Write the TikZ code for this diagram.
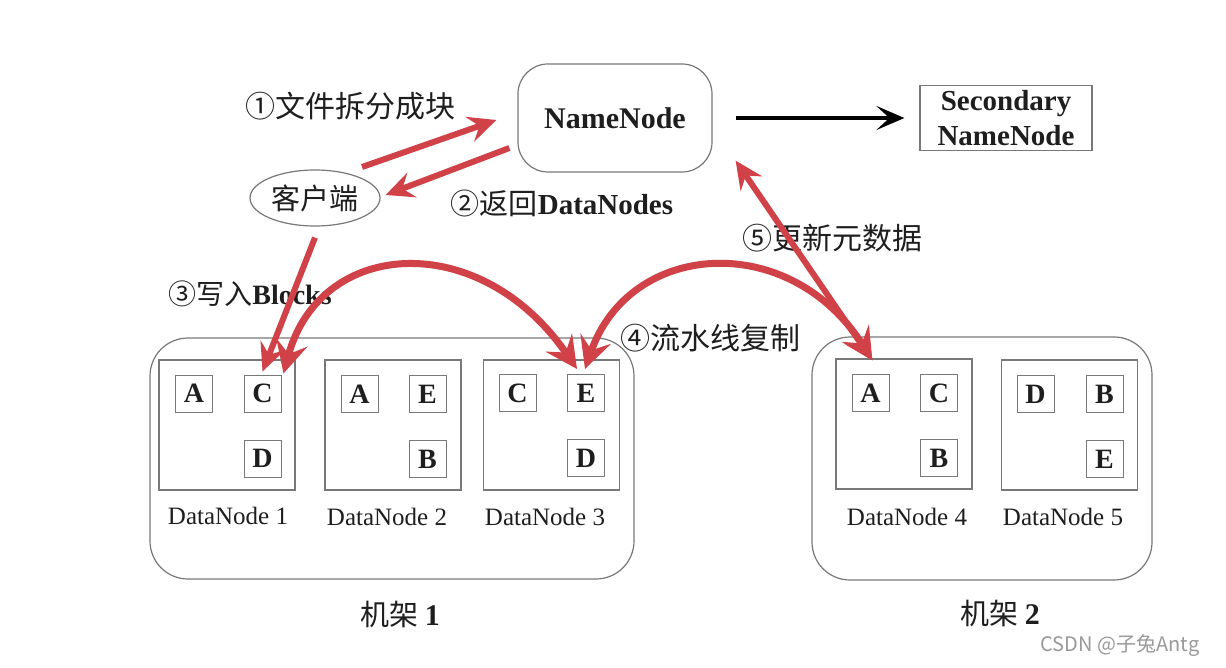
\documentclass[tikz,border=0pt]{standalone}
\usepackage{fontspec}
\setmainfont{Liberation Serif}
\newfontfamily\cjk{Noto Sans CJK SC}
\usetikzlibrary{arrows.meta,calc,shapes.geometric}
\definecolor{redarr}{RGB}{208,66,72}
\definecolor{linegray}{RGB}{120,120,120}
\definecolor{txt}{RGB}{30,30,30}
\tikzset{
  fs/.style={font=\fontsize{#1}{#1}\selectfont},
  blk/.style={draw=linegray, line width=1pt, minimum size=37pt, inner sep=0pt,
    font=\fontsize{28}{28}\selectfont\bfseries, text=txt},
  dnbox/.style={draw=linegray, line width=1.2pt, minimum width=136pt, minimum height=130pt, inner sep=0pt},
  rack/.style={draw=linegray, line width=1.2pt, rounded corners=38pt},
  dnlabel/.style={font=\fontsize{25}{25}\selectfont, text=txt},
  cnlabel/.style={font=\fontsize{30}{30}\selectfont\cjk, text=txt, inner sep=0pt},
  redline/.style={draw=redarr, line width=6pt, -{Stealth[length=28pt,width=26pt,inset=10pt]}},
  redboth/.style={draw=redarr, line width=6pt, {Stealth[length=28pt,width=26pt,inset=10pt]}-{Stealth[length=28pt,width=26pt,inset=10pt]}},
  redcurve/.style={draw=redarr, line width=7pt, {Stealth[length=32pt,width=32pt,inset=12pt]}-{Stealth[length=32pt,width=32pt,inset=12pt]}},
}
\begin{document}
\begin{tikzpicture}[x=1pt,y=-1pt]
\useasboundingbox[fill=white] (0,0) rectangle (1226,668);

% NameNode and Secondary
\node[draw=linegray, line width=1.2pt, rounded corners=30pt, minimum width=194pt, minimum height=108pt,
      font=\fontsize{30}{30}\selectfont\bfseries, text=txt] (nn) at (615,118) {NameNode};
\node[draw=linegray, line width=1.2pt, minimum width=172pt, minimum height=65pt, inner sep=0pt,
      font=\fontsize{29}{35}\selectfont\bfseries, text=txt, align=center] (snn) at (1006,118) {Secondary\\NameNode};
\draw[line width=4.5pt, -{Stealth[length=28pt,width=24pt,inset=13pt]}]
  ([shift={(23,0)}]nn.east) -- ([shift={(-15,0)}]snn.west);

% client
\node[draw=linegray, line width=1.2pt, ellipse, minimum width=130pt, minimum height=56pt, inner sep=0pt,
      font=\fontsize{29}{29}\selectfont\cjk, text=txt] (cl) at (315,198) {客户端};

% racks
\draw[rack] (150,338) rectangle (634,579);
\draw[rack] (812,337) rectangle (1152,580);

% DataNodes
\node[dnbox] (dn1) at (227,425) {};
\node[dnbox] (dn2) at (393,425) {};
\node[dnbox] (dn3) at (551.5,425) {};
\node[dnbox] (dn4) at (904,424) {};
\node[dnbox] (dn5) at (1069.5,425) {};

% blocks
\node[blk] (a1) at (194,393.5) {A};
\node[blk] (c1) at (262.5,393.5) {C};
\node[blk] (d1) at (262.5,458.5) {D};
\node[blk] (a2) at (359.5,394) {A};
\node[blk] (e2) at (427.5,394) {E};
\node[blk] (b2) at (427.5,459) {B};
\node[blk] (c3) at (517.5,393) {C};
\node[blk] (e3) at (586,393) {E};
\node[blk] (d3) at (586,458) {D};
\node[blk] (a4) at (870.5,393) {A};
\node[blk] (c4) at (939,393) {C};
\node[blk] (b4) at (939,458) {B};
\node[blk] (d5) at (1035.5,394) {D};
\node[blk] (b5) at (1104.5,394) {B};
\node[blk] (e5) at (1104.5,459) {E};

% DataNode labels
\node[dnlabel] (l1) at (228,516) {DataNode 1};
\node[dnlabel] (l2) at (387,517) {DataNode 2};
\node[dnlabel] (l3) at (545,517) {DataNode 3};
\node[dnlabel] (l4) at (907,517) {DataNode 4};
\node[dnlabel] (l5) at (1063,517) {DataNode 5};

% rack labels
\node[text=txt, inner sep=0pt] (r1) at (400,614) {{\fontsize{29}{29}\selectfont\cjk 机架 }{\fontsize{30}{30}\selectfont\bfseries 1}};
\node[text=txt, inner sep=0pt] (r2) at (1000,613) {{\fontsize{29}{29}\selectfont\cjk 机架 }{\fontsize{30}{30}\selectfont\bfseries 2}};

% step labels
\node[cnlabel] (s1) at (350,106) {①文件拆分成块};
\node[text=txt, inner sep=0pt] (s2) at (562,203) {{\fontsize{29}{29}\selectfont\cjk ②返回}{\fontsize{29}{29}\selectfont\bfseries DataNodes}};
\node[text=txt, inner sep=0pt] (s3) at (250,294) {{\fontsize{28}{28}\selectfont\cjk ③写入}{\fontsize{28}{28}\selectfont\bfseries Blocks}};
\node[cnlabel] (s4) at (710,338) {④流水线复制};
\node[cnlabel] (s5) at (832,238) {⑤更新元数据};

% red arrows
\draw[redline] ([shift={(47,-31)}]cl.center) -- ([shift={(-21,2)}]nn.west);
\draw[redline] ([shift={(-8,30)}]nn.west) -- ([shift={(5,-3)}]cl.east);
\draw[redline] ([shift={(0,11)}]cl.south) -- ([shift={(0,-3)}]c1.north);
\draw[redcurve] ([shift={(2,-1)}]c1.north east) .. controls (320,238) and (480,228) .. ([shift={(-9,-5)}]e3.north);
\draw[redcurve] ([shift={(-1,-5)}]e3.north) .. controls (630,240) and (790,230) .. ([shift={(37,2)}]dn4.north west);
\draw[redboth] ([shift={(37,2)}]dn4.north west) -- ([shift={(23,-12)}]nn.south east);

% watermark
\node[font=\fontsize{20}{20}\selectfont\cjk, text=gray!80, inner sep=0pt] (wm) at (1120,646) {CSDN @子兔Antg};
\end{tikzpicture}
\end{document}
